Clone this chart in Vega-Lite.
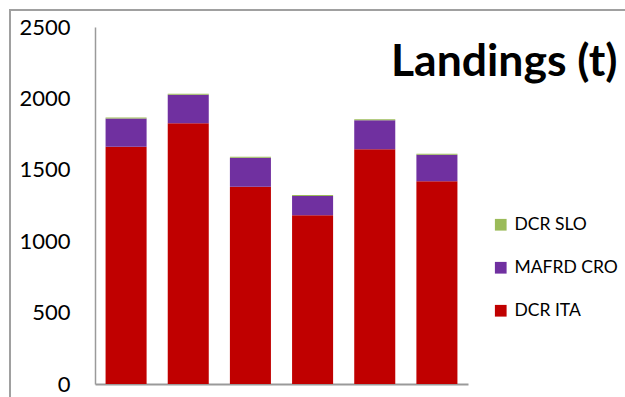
{
  "$schema": "https://vega.github.io/schema/vega-lite/v6.json",
  "autosize": "none",
  "width": 645,
  "height": 417,
  "padding": {"left": 10, "top": 10, "right": -30, "bottom": -30},
  "background": "white",
  "config": {
    "font": "Lato",
    "view": {"stroke": "#a0a0a0", "strokeWidth": 2, "fill": "white"}
  },
  "title": {
    "text": "Landings (t)",
    "font": "Lato",
    "fontSize": 44.5,
    "fontWeight": "bold",
    "color": "black",
    "anchor": "start",
    "baseline": "alphabetic",
    "offset": 0,
    "dx": 381,
    "dy": 110
  },
  "data": {
    "values": [
      {"set": "1", "source": "DCR ITA", "tonnes": 1662},
      {"set": "1", "source": "MAFRD CRO", "tonnes": 197},
      {"set": "1", "source": "DCR SLO", "tonnes": 7},
      {"set": "2", "source": "DCR ITA", "tonnes": 1826},
      {"set": "2", "source": "MAFRD CRO", "tonnes": 200},
      {"set": "2", "source": "DCR SLO", "tonnes": 7},
      {"set": "3", "source": "DCR ITA", "tonnes": 1382},
      {"set": "3", "source": "MAFRD CRO", "tonnes": 203},
      {"set": "3", "source": "DCR SLO", "tonnes": 7},
      {"set": "4", "source": "DCR ITA", "tonnes": 1181},
      {"set": "4", "source": "MAFRD CRO", "tonnes": 136},
      {"set": "4", "source": "DCR SLO", "tonnes": 6},
      {"set": "5", "source": "DCR ITA", "tonnes": 1644},
      {"set": "5", "source": "MAFRD CRO", "tonnes": 203},
      {"set": "5", "source": "DCR SLO", "tonnes": 7},
      {"set": "6", "source": "DCR ITA", "tonnes": 1419},
      {"set": "6", "source": "MAFRD CRO", "tonnes": 187},
      {"set": "6", "source": "DCR SLO", "tonnes": 7}
    ]
  },
  "mark": {"type": "bar"},
  "encoding": {
    "x": {
      "field": "set",
      "type": "nominal",
      "scale": {"range": [85, 458], "paddingInner": 0.34, "paddingOuter": 0.17},
      "axis": {
        "title": null,
        "labels": false,
        "ticks": false,
        "offset": -43,
        "domainColor": "#9a9a9a",
        "domainWidth": 2
      }
    },
    "y": {
      "field": "tonnes",
      "type": "quantitative",
      "stack": "zero",
      "scale": {"domain": [0, 2500], "nice": false, "range": [374, 17]},
      "axis": {
        "title": null,
        "values": [0, 500, 1000, 1500, 2000, 2500],
        "format": "d",
        "grid": false,
        "ticks": false,
        "offset": -85,
        "labelPadding": 25,
        "labelFont": "Lato",
        "labelFontSize": 22,
        "labelColor": "black",
        "domainColor": "#9a9a9a",
        "domainWidth": 1.5
      }
    },
    "order": {"field": "tonnes", "type": "quantitative", "sort": "descending"},
    "color": {
      "field": "source",
      "type": "nominal",
      "scale": {
        "domain": ["DCR SLO", "MAFRD CRO", "DCR ITA"],
        "range": ["#9bbb59", "#7030a0", "#c00000"]
      },
      "legend": {
        "title": null,
        "orient": "none",
        "legendX": 482,
        "legendY": 206,
        "padding": 0,
        "values": ["DCR SLO", "MAFRD CRO", "DCR ITA"],
        "symbolType": "square",
        "symbolSize": 137,
        "symbolStrokeWidth": 0,
        "labelFont": "Lato",
        "labelFontSize": 17.5,
        "labelColor": "black",
        "labelOffset": 5,
        "rowPadding": 24
      }
    }
  }
}
